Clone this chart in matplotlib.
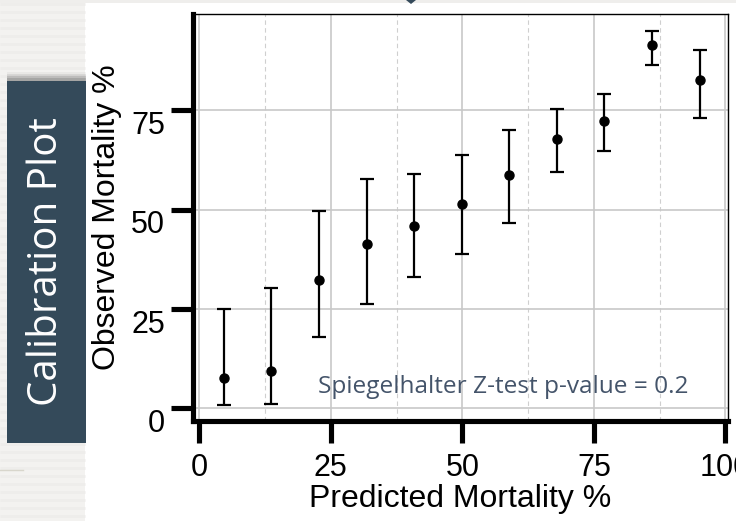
import matplotlib
matplotlib.use("Agg")
from matplotlib import pyplot as plt
from matplotlib import transforms
from matplotlib.patches import Rectangle, Polygon
import numpy as np

# calibration data: predicted vs observed mortality (%) with 95% CI
predicted = [4.6, 13.7, 22.8, 31.8, 40.9, 49.9, 58.9, 68.0, 77.0, 86.1, 95.1]
observed = [7.6, 9.5, 32.4, 41.4, 45.8, 51.5, 58.8, 67.7, 72.4, 91.5, 82.8]
ci_low = [0.8, 1.1, 17.9, 26.3, 33.1, 38.9, 46.7, 59.5, 64.8, 86.5, 73.0]
ci_high = [25.0, 30.3, 49.7, 57.8, 59.1, 63.7, 70.2, 75.3, 79.1, 95.0, 90.2]

x_ticks = [0, 25, 50, 75, 100]
y_ticks = [0, 25, 50, 75]
p_text = "Spiegelhalter Z-test p-value = 0.2"

W, H = 736, 521
fig = plt.figure(figsize=(W / 100, H / 100), dpi=100)
fig.patch.set_facecolor("white")

# slide background, pixel coords
bg = fig.add_axes([0, 0, 1, 1])
bg.set_xlim(0, W)
bg.set_ylim(H, 0)
bg.axis("off")
bg.add_patch(Rectangle((0, 0), 85, H, color="#f3f2f0", lw=0, zorder=0))
bg.add_patch(Rectangle((0, 0), W, 3, color="#efeeec", lw=0, zorder=0))
for yy in np.arange(4, H, 8):
    bg.plot([0, 85], [yy, yy], color="#eeedeb", lw=2, solid_capstyle="butt", zorder=0.5)
bg.plot([0, 23], [470, 470], color="#d8d6cc", lw=1, zorder=0.6)
# shadow + title box
for i, a in enumerate([0.04, 0.07, 0.1, 0.14]):
    bg.add_patch(Rectangle((7, 72 + i * 2), 79, 12, color="black", alpha=a, lw=0, zorder=1))
bg.add_patch(Rectangle((7, 81), 79, 362, color="#344a5a", lw=0, zorder=2))
bg.text(47, 262, "Calibration Plot", rotation=90, ha="center", va="center",
        color="white", fontsize=29, family="Open Sans", zorder=3)
bg.add_patch(Polygon([[406, 0], [416, 0], [411, 4]], closed=True, color="#344a5a",
                     lw=0, zorder=3))

# main plot
ax = fig.add_axes([193 / W, (H - 421) / H, 535 / W, 407 / H])
ax.set_xlim(-1.2, 100.5)
ax.set_ylim(-3.2, 99.3)

ax.set_xticks(x_ticks)
ax.set_yticks(y_ticks)
ax.set_xticks([12.5, 37.5, 62.5, 87.5], minor=True)
ax.grid(True, which="major", axis="both", color="#c8c8c8", lw=1.2)
ax.grid(True, which="minor", axis="x", color="#cfcfcf", lw=0.8, ls=(0, (4, 3)))
ax.set_axisbelow(True)

yerr = [np.array(observed) - np.array(ci_low), np.array(ci_high) - np.array(observed)]
ax.errorbar(predicted, observed, yerr=yerr, fmt="o", color="black", ms=6.5,
            elinewidth=1.6, capsize=5, capthick=1.6, zorder=3)

for s in ["left", "bottom"]:
    ax.spines[s].set_linewidth(3.7)
for s in ["top", "right"]:
    ax.spines[s].set_linewidth(1.0)

ax.tick_params(which="major", direction="out", length=16, width=3.7, color="black",
               labelsize=22, labelfontfamily="Liberation Sans")
ax.tick_params(axis="y", pad=4)
ax.tick_params(axis="x", pad=7)
ax.tick_params(which="minor", length=0)

shift = transforms.ScaledTranslation(0, -0.12, fig.dpi_scale_trans)
for lab in ax.get_yticklabels():
    lab.set_transform(lab.get_transform() + shift)

ax.set_xlabel("Predicted Mortality %", fontsize=23, family="Liberation Sans", va="center")
ax.set_ylabel("Observed Mortality %", fontsize=23, family="Liberation Sans", va="center")
ax.xaxis.set_label_coords(0.5, -78 / 407)
ax.yaxis.set_label_coords(-86.5 / 535, 0.5)

ax.text(22.6, 3.9, p_text, ha="left", va="baseline", color="#44546a",
        fontsize=17.6, family="Open Sans")

fig.savefig("out.png", dpi=100)
